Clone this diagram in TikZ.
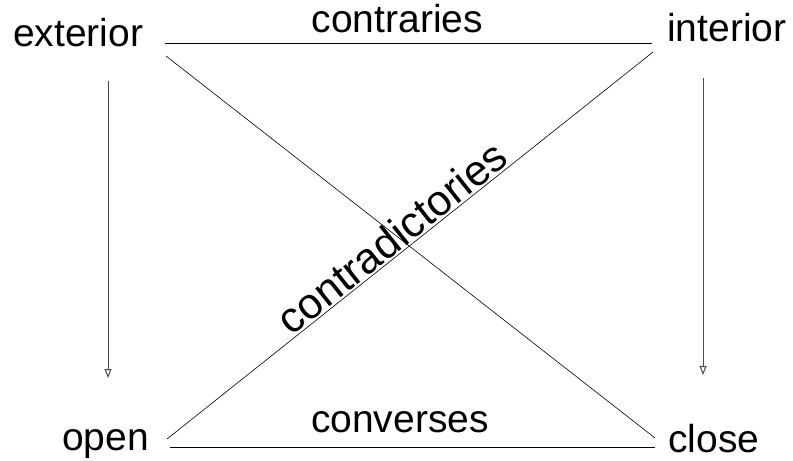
\documentclass[tikz,border=0pt]{standalone}
\usepackage{fontspec}
\setmainfont{Liberation Sans}
\usetikzlibrary{arrows.meta}

\begin{document}
\begin{tikzpicture}[x=1bp,y=-1bp,
node font=\fontsize{39bp}{45bp}\selectfont,
term/.style={inner sep=0pt,anchor=base west},
rel/.style={line width=0.6bp},
imp/.style={line width=0.6bp,black!70,-{Triangle[open,length=9bp,width=7bp,line width=1bp]}}]
\useasboundingbox (0,0) rectangle (793,461);
\node[term] (ext) at (13,47) {exterior};
\node[term] (int) at (667,42) {interior};
\node[term] (opn) at (62,450) {open};
\node[term] (cls) at (668,452) {close};
% square of opposition
\draw[rel] ([shift={(152,-4)}]ext.base west) -- ([shift={(-15,1)}]int.base west)
node[pos=0.477,above=10bp,inner sep=0pt] (cont) {contraries};
\draw[rel] ([shift={(108,-3)}]opn.base west) -- ([shift={(-13,-5)}]cls.base west)
node[pos=0.474,above=14bp,inner sep=0pt] (conv) {converses};
\draw[rel] ([shift={(153,9)}]ext.base west) -- ([shift={(-13,-14)}]cls.base west);
\draw[rel] ([shift={(105,-11)}]opn.base west) -- ([shift={(-14,10)}]int.base west)
node[pos=0.485,sloped,above,inner sep=1.5bp,font=\fontsize{43bp}{48bp}\selectfont] (contra) {contradictories};
\draw[imp] ([shift={(95,34)}]ext.base west) -- ([shift={(46,-72)}]opn.base west);
\draw[imp] ([shift={(36,36)}]int.base west) -- ([shift={(35,-77)}]cls.base west);
\end{tikzpicture}
\end{document}
